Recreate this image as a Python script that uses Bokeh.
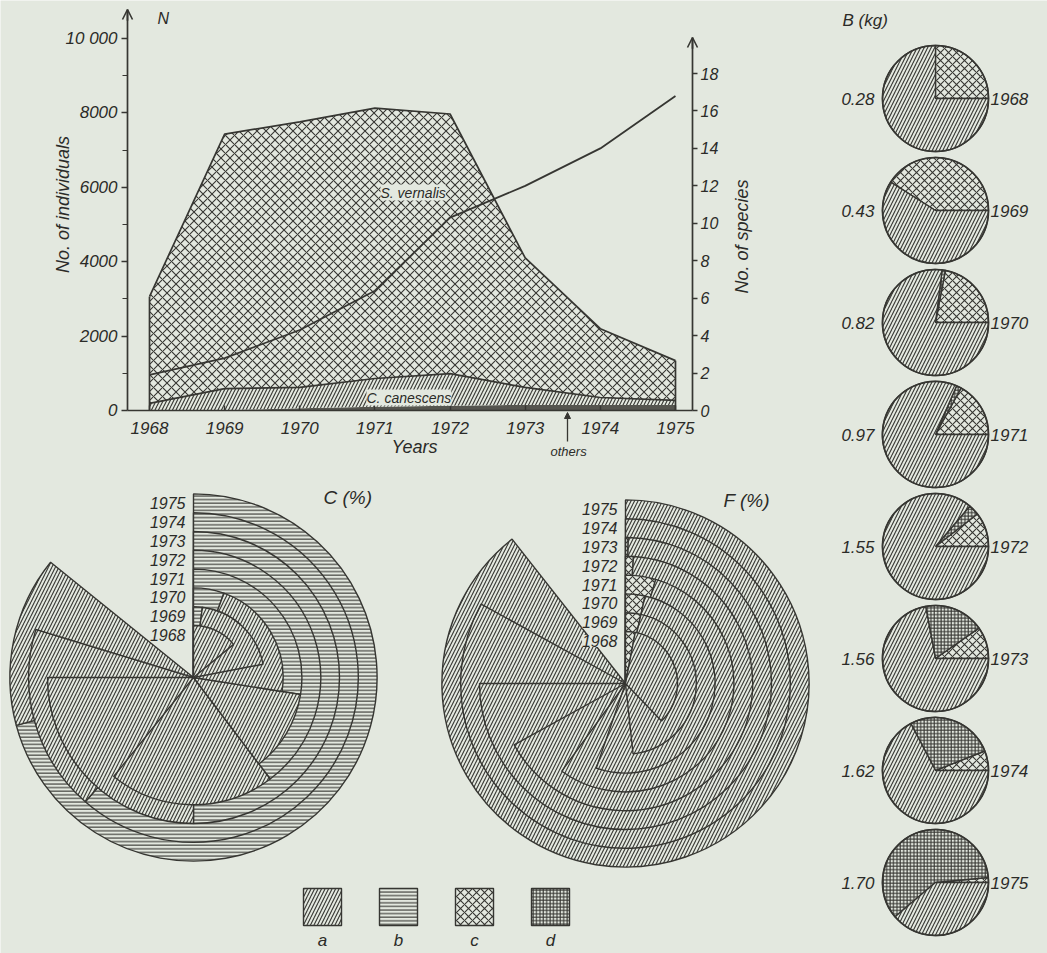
import math
import numpy as np
from bokeh.plotting import figure
from bokeh.models import (Range1d, LinearAxis, FixedTicker, Label, LabelSet, Arrow,
                          NormalHead, OpenHead, ColumnDataSource)
from bokeh.core.properties import value
from bokeh.embed import file_html
from bokeh.resources import INLINE

BG = "#e3e8df"
INK = "#363632"
TXT = "#2b2b28"
FONT = "Liberation Sans"

# ---------------- data ----------------
years = [1968, 1969, 1970, 1971, 1972, 1973, 1974, 1975]
year_labels = ["1968", "1969", "1970", "1971", "1972", "1973", "1974", "1975"]
s_vernalis = [2870, 6840, 7140, 7270, 6980, 3480, 1850, 1070]
c_canescens = [190, 580, 560, 760, 860, 470, 200, 120]
others = [0, 10, 60, 100, 130, 150, 150, 150]
n_species = [1.9, 2.8, 4.3, 6.4, 10.3, 12.0, 14.0, 16.8]
individual_ticks = [0, 2000, 4000, 6000, 8000, 10000]
individual_minor = [1000, 3000, 5000, 7000, 9000]
species_ticks = [0, 2, 4, 6, 8, 10, 12, 14, 16, 18]

# C (%) cover: b first (clockwise from 12 o'clock), then a
cover_b = [0, 2, 5.5, 27.5, 39.7, 50.0, 61.4, 70.8]
cover_a = [14, 20, 22, 12.2, 21.1, 25.0, 18.3, 15.0]
# F (%) frequency: c first, then a
freq_c = [3, 3.5, 3.5, 4.5, 1, 0.3, 0, 0]
freq_a = [34.8, 44.8, 51.8, 55.5, 66, 74.7, 83, 89.4]
# B (kg) biomass pies: c, d, a (counter-clockwise from 3 o'clock)
biomass = ["0.28", "0.43", "0.82", "0.97", "1.55", "1.56", "1.62", "1.70"]
bio_c = [25, 41, 22, 17, 10.5, 9.7, 6, 1.5]
bio_d = [0, 0, 1, 1.5, 3.3, 18.3, 26.7, 59.7]
bio_a = [75, 59, 77, 81.5, 86.2, 72, 67.3, 38.8]
legend_keys = ["a", "b", "c", "d"]

PAT = {"a": ("/", 7), "b": ("-", 3.6), "c": ("x", 8), "d": ("+", 3.4)}

W, H = 1047, 953
p = figure(width=W, height=H, x_range=Range1d(0, W), y_range=Range1d(H, 0),
           x_axis_location=None, y_axis_location=None, min_border=0,
           output_backend="svg", toolbar_location=None)
p.background_fill_color = BG
p.border_fill_color = BG
p.outline_line_color = None
p.grid.visible = False

# ---------------- top chart: its own ranges laid over the canvas ----------------
PX_L, PX_R, PX_Y1968, YR_PX = 127, 692, 149, 75.14
BASE_PY, IND_PX, SP_PX = 410, 0.0372, 18.72      # baseline row, px per individual, px per species
X0 = years[0] + (PX_L - PX_Y1968) / YR_PX
X1 = years[0] + (PX_R - PX_Y1968) / YR_PX
p.extra_x_ranges = {"yr": Range1d(years[0] - PX_Y1968 / YR_PX, years[0] + (W - PX_Y1968) / YR_PX)}
p.extra_y_ranges = {
    "ind": Range1d((BASE_PY - H) / IND_PX, BASE_PY / IND_PX),
    "sp": Range1d((BASE_PY - H) / SP_PX, BASE_PY / SP_PX),
}
IND_TOP = (BASE_PY - 9) / IND_PX
SP_TOP = (BASE_PY - 37) / SP_PX

yrs = np.array(years, float)
lo = np.array(others, float)
lc = lo + np.array(c_canescens, float)
ls = lc + np.array(s_vernalis, float)
kw = dict(x_range_name="yr", y_range_name="ind")

p.varea(x=yrs, y1=0, y2=lo, fill_color="#55554f", **kw)
p.varea(x=yrs, y1=lo, y2=lc, fill_color=BG, hatch_pattern="/", hatch_scale=7,
        hatch_color=INK, hatch_weight=1.1, **kw)
p.varea(x=yrs, y1=lc, y2=ls, fill_color=BG, hatch_pattern="x", hatch_scale=9,
        hatch_color=INK, hatch_weight=1.1, **kw)
for lev in (lc, ls):
    p.line(yrs, lev, line_color=INK, line_width=1.7, **kw)
p.segment(x0=[yrs[0], yrs[-1]], y0=[0, 0], x1=[yrs[0], yrs[-1]], y1=[ls[0], ls[-1]],
          line_color=INK, line_width=1.7, **kw)
p.line(yrs, n_species, x_range_name="yr", y_range_name="sp", line_color=INK, line_width=1.8)

xa = LinearAxis(x_range_name="yr", y_range_name="ind", fixed_location=0,
                ticker=FixedTicker(ticks=years), bounds=(X0, X1))
xa.major_tick_in = 5
xa.major_tick_out = 0
xa.minor_tick_line_color = None
xa.major_label_standoff = 11
p.add_layout(xa, "below")

ya = LinearAxis(x_range_name="yr", y_range_name="ind", fixed_location=X0,
                ticker=FixedTicker(ticks=individual_ticks, minor_ticks=individual_minor),
                bounds=(0, IND_TOP))
ya.major_label_overrides = {10000: "10 000"}
ya.major_tick_in = 0
ya.major_tick_out = 6
ya.minor_tick_in = 0
ya.minor_tick_out = 5
ya.minor_tick_line_color = INK
ya.major_label_standoff = 4
p.add_layout(ya, "left")

ra = LinearAxis(x_range_name="yr", y_range_name="sp", fixed_location=X1,
                ticker=FixedTicker(ticks=species_ticks), bounds=(0, SP_TOP))
ra.major_tick_in = 0
ra.major_tick_out = 5
ra.minor_tick_line_color = None
ra.major_label_standoff = 3
p.add_layout(ra, "right")

for ax in (xa, ya, ra):
    ax.axis_line_color = INK
    ax.axis_line_width = 1.7
    ax.major_tick_line_color = INK
    ax.major_tick_line_width = 1.4
    ax.minor_tick_line_width = 1.2
    ax.major_label_text_font = FONT
    ax.major_label_text_font_style = "italic"
    ax.major_label_text_font_size = "17px"
    ax.major_label_text_color = TXT
ra.major_label_text_font_size = "16px"

p.add_layout(Arrow(end=OpenHead(size=10, line_color=INK, line_width=1.6),
                   x_start=X0, y_start=IND_TOP - 300, x_end=X0, y_end=IND_TOP,
                   x_range_name="yr", y_range_name="ind", line_color=INK, line_width=1.7))
p.add_layout(Arrow(end=OpenHead(size=10, line_color=INK, line_width=1.6),
                   x_start=X1, y_start=SP_TOP - 0.6, x_end=X1, y_end=SP_TOP,
                   x_range_name="yr", y_range_name="sp", line_color=INK, line_width=1.7))


def tlabel(x, y, text, size, **kw2):
    p.add_layout(Label(x=x, y=y, text=text, text_font=FONT, text_font_style="italic",
                       text_font_size=size, text_color=TXT, text_baseline="middle", **kw2))


tlabel(62, 204, "No. of individuals", "18px", angle=math.pi / 2, text_align="center")
tlabel(741, 236, "No. of species", "18px", angle=math.pi / 2, text_align="center")
tlabel(414, 446, "Years", "18px", text_align="center")
tlabel(157, 18, "N", "16px")
tlabel(380, 192, "S. vernalis", "14px", background_fill_color=BG)
tlabel(366, 397, "C. canescens", "14px", background_fill_color=BG)
tlabel(550, 451, "others", "13px")
p.add_layout(Arrow(end=NormalHead(size=6, fill_color=INK, line_color=INK),
                   x_start=567, y_start=441, x_end=567, y_end=412,
                   line_color=INK, line_width=1.3))

# ---------------- polar charts C (%) and F (%) ----------------
R0, RSTEP = 52.0, 18.8


def polar(cx, cy, parts):
    d = dict(x=[], y=[], r=[], sa=[], ea=[], pat=[], sc=[])
    for i in reversed(range(len(years))):
        r = R0 + RSTEP * i
        theta = 0.0
        for cat, vals in parts:
            v = vals[i]
            if v <= 0:
                continue
            t1 = theta + v * 3.6
            d["x"].append(cx); d["y"].append(cy); d["r"].append(r)
            d["sa"].append(math.radians(90 - t1)); d["ea"].append(math.radians(90 - theta))
            d["pat"].append(PAT[cat][0]); d["sc"].append(PAT[cat][1])
            theta = t1
    p.wedge(x="x", y="y", radius="r", start_angle="sa", end_angle="ea",
            source=ColumnDataSource(d), fill_color=BG, line_color=INK, line_width=1.4,
            hatch_pattern="pat", hatch_scale="sc", hatch_color=INK, hatch_weight=1.1)
    lab = ColumnDataSource(dict(x=[cx - 8] * len(years),
                                y=[cy - (R0 + RSTEP * i - 9.5) for i in range(len(years))],
                                t=year_labels))
    p.add_layout(LabelSet(x="x", y="y", text="t", source=lab, text_align="right",
                          text_baseline="middle", text_font=value(FONT),
                          text_font_style="italic", text_font_size="16px", text_color=TXT,
                          background_fill_color=BG))


polar(193, 677, [("b", cover_b), ("a", cover_a)])
polar(625, 683, [("c", freq_c), ("a", freq_a)])

tlabel(323, 497, "C (%)", "19px")
tlabel(723, 500, "F (%)", "19px")

lx = [322 + 76 * k for k in range(len(legend_keys))]
p.quad(left=[x - 19 for x in lx], right=[x + 19 for x in lx], top=[888] * 4, bottom=[925] * 4,
       fill_color=BG, line_color=INK, line_width=1.4,
       hatch_pattern=[PAT[k][0] for k in legend_keys], hatch_scale=[PAT[k][1] for k in legend_keys],
       hatch_color=INK, hatch_weight=1.1)
p.add_layout(LabelSet(x="x", y="y", text="t",
                      source=ColumnDataSource(dict(x=lx, y=[940] * 4, t=legend_keys)),
                      text_align="center", text_baseline="middle", text_font=value(FONT),
                      text_font_style="italic", text_font_size="17px", text_color=TXT))

# ---------------- biomass pies ----------------
PCX, PR = 935, 53
pcy = [98 + 112 * i for i in range(len(years))]
pd_ = dict(x=[], y=[], sa=[], ea=[], pat=[], sc=[])
for i in range(len(years)):
    a0 = 0.0
    for cat, vals in (("c", bio_c), ("d", bio_d), ("a", bio_a)):
        v = vals[i]
        if v <= 0:
            continue
        a1 = a0 + v * 3.6
        pd_["x"].append(PCX); pd_["y"].append(pcy[i])
        pd_["sa"].append(math.radians(a0)); pd_["ea"].append(math.radians(a1))
        pd_["pat"].append(PAT[cat][0]); pd_["sc"].append(PAT[cat][1])
        a0 = a1
p.wedge(x="x", y="y", radius=PR, start_angle="sa", end_angle="ea", source=ColumnDataSource(pd_),
        fill_color=BG, line_color=INK, line_width=1.4,
        hatch_pattern="pat", hatch_scale="sc", hatch_color=INK, hatch_weight=1.1)
p.circle(x=[PCX] * len(years), y=pcy, radius=PR, fill_color=None, line_color=INK, line_width=1.7)
p.add_layout(LabelSet(x="x", y="y", text="t",
                      source=ColumnDataSource(dict(x=[874] * len(years), y=pcy, t=biomass)),
                      text_align="right", text_baseline="middle", text_font=value(FONT),
                      text_font_style="italic", text_font_size="17px", text_color=TXT))
p.add_layout(LabelSet(x="x", y="y", text="t",
                      source=ColumnDataSource(dict(x=[990] * len(years), y=pcy, t=year_labels)),
                      text_align="left", text_baseline="middle", text_font=value(FONT),
                      text_font_style="italic", text_font_size="17px", text_color=TXT))
tlabel(842, 20, "B (kg)", "17px")

html = file_html(p, INLINE)
html = html.replace("<body>", '<body style="background:%s">' % BG, 1)
open("out.html", "w").write(html)
